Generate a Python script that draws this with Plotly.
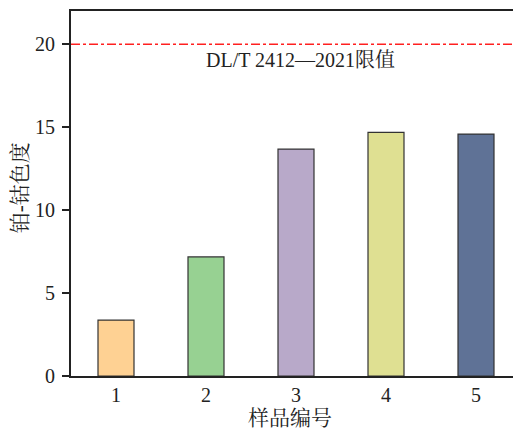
import plotly.graph_objects as go

samples = ["1", "2", "3", "4", "5"]
values = [3.37, 7.18, 13.68, 14.68, 14.58]
colors = ["#FED193", "#97D192", "#B8A9C9", "#DFE092", "#5F7296"]
limit_value = 20
limit_label = "DL/T 2412—2021限值"
y_ticks = [0, 5, 10, 15, 20]
x_title = "样品编号"
y_title = "铂-钴色度"

serif = "Liberation Serif, Times New Roman, Noto Serif CJK SC, Noto Sans CJK SC, serif"

fig = go.Figure()
fig.add_trace(go.Bar(
    x=[1, 2, 3, 4, 5], y=values, width=0.4,
    marker=dict(color=colors, line=dict(color="#333333", width=1.2)),
    showlegend=False,
))
fig.add_shape(type="line", xref="paper", yref="y", x0=0, x1=1, y0=limit_value, y1=limit_value,
              line=dict(color="#FF2020", width=1.5, dash="dashdot"))
fig.add_annotation(x=3.05, y=limit_value - 0.95, xref="x", yref="y", text=limit_label,
                   showarrow=False, font=dict(family=serif, size=20, color="#222222"))
fig.add_annotation(x=0.487, y=-0.114, xref="paper", yref="paper", text=x_title,
                   showarrow=False, font=dict(family=serif, size=21, color="#222222"),
                   xanchor="center", yanchor="middle", borderpad=0)
fig.add_annotation(x=-0.113, y=0.515, xref="paper", yref="paper", text=y_title, textangle=-90,
                   showarrow=False, font=dict(family=serif, size=21, color="#222222"),
                   xanchor="center", yanchor="middle")

# page body has an 8px margin, so the figure is offset by 8px
fig.update_layout(
    width=513, height=421,
    margin=dict(l=63, r=0, t=3, b=53, autoexpand=False),
    plot_bgcolor="white", paper_bgcolor="white",
    font=dict(family=serif, size=20, color="#222222"),
    xaxis=dict(range=[0.5, 5.5], tickvals=[1, 2, 3, 4, 5], ticktext=samples,
               showline=True, linecolor="#222222", linewidth=2, mirror=True,
               ticks="", showgrid=False, zeroline=False, automargin=False),
    yaxis=dict(range=[0, 22], tickvals=y_ticks, showline=True, linecolor="#222222", linewidth=2,
               ticks="outside", ticklen=7, tickwidth=2, tickcolor="#222222",
               ticklabelstandoff=3,
               showgrid=False, zeroline=False, automargin=False),
)
fig.write_html("out.html")
